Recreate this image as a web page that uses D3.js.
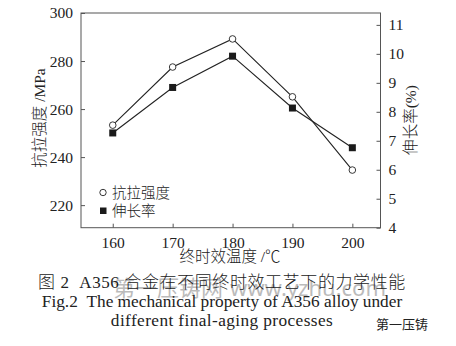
<!DOCTYPE html>
<html>
<head>
<meta charset="utf-8">
<script src="https://cdn.jsdelivr.net/npm/d3@7"></script>
<style>
  html, body { margin: 0; padding: 0; background: #fff; }
  svg { display: block; }
  text { font-family: "Liberation Serif", "Noto Sans CJK SC", serif; fill: #222; }
  .cjk { font-family: "Liberation Serif", "Noto Sans CJK SC", sans-serif; font-weight: 300; }
</style>
</head>
<body>
<script>
// Final-aging temperature (°C)
const temperatures = [160, 170, 180, 190, 200];
// Tensile strength (MPa)
const tensileStrength = [253.3, 277.5, 289.2, 265.1, 234.6];
// Elongation (%)
const elongation = [7.27, 8.84, 9.92, 8.13, 6.76];

const leftTicks = [220, 240, 260, 280, 300];
const rightTicks = [4, 5, 6, 7, 8, 9, 10, 11];
const xTicks = [160, 170, 180, 190, 200];

const W = 456, H = 346;
const plot = { left: 81, right: 380.5, top: 13, bottom: 227.7 };

const svg = d3.select("body").append("svg").attr("width", W).attr("height", H);

const x = d3.scaleLinear().domain([154.7, 204.7]).range([plot.left, plot.right]);
const yL = d3.scaleLinear().domain([210.6, 300]).range([plot.bottom, plot.top]);
const yR = d3.scaleLinear().domain([4, 11.41]).range([plot.bottom, plot.top]);

const axisColor = "#555";

// Frame
svg.append("rect")
  .attr("x", plot.left).attr("y", plot.top)
  .attr("width", plot.right - plot.left).attr("height", plot.bottom - plot.top)
  .attr("fill", "none").attr("stroke", axisColor).attr("stroke-width", 1);

// Axes with inward ticks
function styleAxis(g) {
  g.select(".domain").remove();
  g.selectAll(".tick line").attr("stroke", axisColor);
  g.selectAll(".tick text").attr("font-size", 15.5).attr("fill", "#222")
    .style("font-family", '"Liberation Serif", serif');
}

svg.append("g").attr("transform", `translate(0,${plot.bottom})`)
  .call(d3.axisBottom(x).tickValues(xTicks).tickFormat(d3.format("d")).tickSizeInner(-4).tickPadding(9))
  .call(styleAxis);

svg.append("g").attr("transform", `translate(${plot.left},0)`)
  .call(d3.axisLeft(yL).tickValues(leftTicks).tickFormat(d3.format("d")).tickSizeInner(-4).tickPadding(8))
  .call(styleAxis);

svg.append("g").attr("transform", `translate(${plot.right},0)`)
  .call(d3.axisRight(yR).tickValues(rightTicks).tickFormat(d3.format("d")).tickSizeInner(-4).tickPadding(8))
  .call(styleAxis);

// Tensile strength series (open circles)
const lineL = d3.line().x((d, i) => x(temperatures[i])).y(d => yL(d));
svg.append("path").datum(tensileStrength)
  .attr("d", lineL).attr("fill", "none").attr("stroke", "#222").attr("stroke-width", 1.1);

// Elongation series (filled squares)
const lineR = d3.line().x((d, i) => x(temperatures[i])).y(d => yR(d));
svg.append("path").datum(elongation)
  .attr("d", lineR).attr("fill", "none").attr("stroke", "#222").attr("stroke-width", 1.1);

svg.selectAll("circle.ts").data(tensileStrength).enter().append("circle")
  .attr("class", "ts")
  .attr("cx", (d, i) => x(temperatures[i])).attr("cy", d => yL(d))
  .attr("r", 3.3).attr("fill", "#fff").attr("stroke", "#222").attr("stroke-width", 0.9);

const sq = 7;
svg.selectAll("rect.el").data(elongation).enter().append("rect")
  .attr("class", "el")
  .attr("x", (d, i) => x(temperatures[i]) - sq / 2).attr("y", d => yR(d) - sq / 2)
  .attr("width", sq).attr("height", sq).attr("fill", "#1a1a1a");

// Legend
const legend = svg.append("g");
legend.append("circle").attr("cx", 103).attr("cy", 192.5).attr("r", 3.2)
  .attr("fill", "#fff").attr("stroke", "#222").attr("stroke-width", 0.9);
legend.append("text").attr("class", "cjk").attr("x", 112).attr("y", 197.5).attr("font-size", 14.5)
  .text("抗拉强度");
legend.append("rect").attr("x", 100).attr("y", 207.5).attr("width", 6.5).attr("height", 6.5).attr("fill", "#1a1a1a");
legend.append("text").attr("class", "cjk").attr("x", 112).attr("y", 215.5).attr("font-size", 14.5)
  .text("伸长率");

// Axis titles
svg.append("text").attr("class", "cjk")
  .attr("transform", `translate(45,118) rotate(-90)`)
  .attr("text-anchor", "middle").attr("font-size", 15.5)
  .text("抗拉强度 /MPa");

svg.append("text").attr("class", "cjk")
  .attr("transform", `translate(416,120) rotate(-90)`)
  .attr("text-anchor", "middle").attr("font-size", 15.5)
  .text("伸长率(%)");

svg.append("text").attr("class", "cjk")
  .attr("x", 230).attr("y", 262).attr("text-anchor", "middle").attr("font-size", 15.5)
  .text("终时效温度 /℃");

// Site watermark (drawn under the caption)
const wm = svg.append("g").attr("opacity", 0.3);
wm.append("text").attr("x", 113).attr("y", 296).attr("font-size", 22)
  .attr("fill", "#999").style("font-family", '"Noto Sans CJK SC", sans-serif')
  .text("第一压铸网");
wm.append("text").attr("x", 230).attr("y", 296).attr("font-size", 22)
  .attr("fill", "#999").style("font-family", '"Noto Sans", sans-serif')
  .text("www.yzhu.com");

// Caption
const caption = [
  { t: "图 2\u00a0\u00a0A356 合金在不同终时效工艺下的力学性能", y: 288, size: 17, cls: "cjk cap", ls: 0.6 },
  { t: "Fig.2\u00a0\u00a0The mechanical property of A356 alloy under", y: 307, size: 17.3, cls: "cap", ls: 0 },
  { t: "different final-aging processes", y: 326, size: 17.3, cls: "cap", ls: 0.4 }
];
svg.selectAll("text.cap").data(caption).enter().append("text")
  .attr("class", d => d.cls)
  .attr("x", 222).attr("y", d => d.y)
  .attr("text-anchor", "middle").attr("font-size", d => d.size)
  .attr("letter-spacing", d => d.ls)
  .text(d => d.t);

// Account mark in the lower right corner
svg.append("text").attr("x", 376).attr("y", 329).attr("font-size", 13)
  .attr("fill", "#aaa").style("font-family", '"Noto Sans CJK SC", sans-serif')
  .text("第一压铸");
</script>
</body>
</html>
